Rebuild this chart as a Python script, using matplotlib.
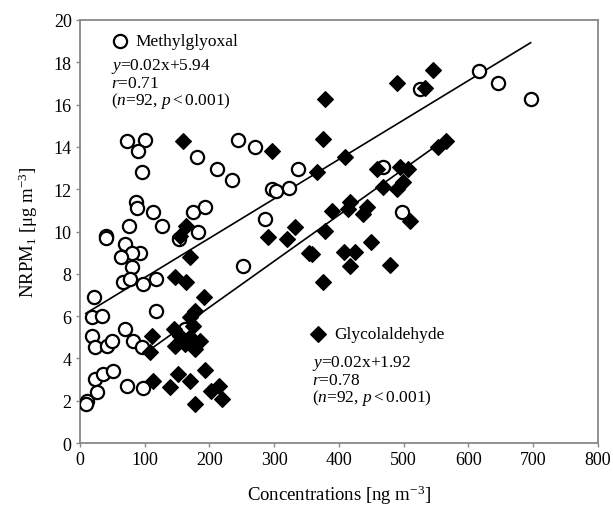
import matplotlib
matplotlib.use("Agg")
import matplotlib.pyplot as plt
import numpy as np

plt.rcParams['font.family'] = ['Liberation Serif', 'DejaVu Serif']
plt.rcParams['mathtext.fontset'] = 'custom'
plt.rcParams['mathtext.rm'] = 'Liberation Serif'
plt.rcParams['mathtext.it'] = 'Liberation Serif:italic'
plt.rcParams['mathtext.bf'] = 'Liberation Serif:bold'

# Methylglyoxal (open circles)
mg_x = [72, 100, 90, 96, 180, 212, 234, 244, 270,
        296, 303, 323, 337, 468, 286, 497, 525, 617, 646, 696,
        86, 88, 112, 126, 76, 175, 193, 183, 153,
        40, 40, 69, 93, 80, 64, 80, 252,
        67, 77, 98, 118,
        22, 18, 34, 118,
        18, 23, 41, 50, 69, 82, 95, 162,
        23, 36, 51, 26, 72, 97, 11, 9]
mg_y = [14.29, 14.34, 13.82, 12.83, 13.5, 12.95, 12.43, 14.34, 13.98,
        12.0, 11.9, 12.04, 12.95, 13.03, 10.59, 10.9, 16.74, 17.6, 17.02, 16.26,
        11.38, 11.1, 10.9, 10.24, 10.24, 10.94, 11.17, 9.96, 9.64,
        9.8, 9.68, 9.4, 9.0, 9.0, 8.78, 8.3, 8.35,
        7.6, 7.75, 7.52, 7.75,
        6.89, 5.94, 6.02, 6.26,
        5.07, 4.52, 4.6, 4.81, 5.39, 4.84, 4.52, 5.39,
        3.02, 3.26, 3.42, 2.43, 2.71, 2.6, 2.0, 1.84]

# Glycolaldehyde (filled diamonds)
ga_x = [158.6, 164, 154, 170,
        147, 164, 191.5, 178, 170, 175, 145, 111, 154, 147, 162, 178, 185, 170, 108,
        113, 139, 152, 170, 193, 203, 214, 219, 178,
        409, 365.5, 458, 494, 507, 499, 489, 468, 553, 566,
        417, 414, 443, 437.5, 389, 510, 332, 291, 319, 378, 358, 353, 407, 425, 450, 417, 479, 376,
        545, 490, 533, 378, 375, 296]
ga_y = [14.29, 10.27, 9.8, 8.78,
        7.83, 7.6, 6.89, 6.26, 5.94, 5.55, 5.39, 5.07, 5.07, 4.6, 4.68, 4.44, 4.84, 4.99, 4.29,
        2.95, 2.63, 3.26, 2.92, 3.45, 2.47, 2.7, 2.08, 1.84,
        13.5, 12.83, 12.95, 13.03, 12.95, 12.33, 12.01, 12.09, 13.98, 14.3,
        11.38, 11.06, 11.14, 10.83, 10.98, 10.51, 10.2, 9.72, 9.64, 10.04, 8.94, 9.0, 9.01, 9.01, 9.49, 8.35, 8.41, 7.6,
        17.65, 17.02, 16.77, 16.26, 14.37, 13.82]

# Regression lines as drawn
mg_fit = (0.01863, 5.96)
ga_fit = (0.0218, 2.06)

x_ticks = [0, 100, 200, 300, 400, 500, 600, 700, 800]
y_ticks = [0, 2, 4, 6, 8, 10, 12, 14, 16, 18, 20]

fig = plt.figure(figsize=(6.13, 5.06), dpi=100)
ax = fig.add_axes([0.1305, 0.1225, 0.845, 0.836])

ax.plot(mg_x, mg_y, linestyle='none', marker='o', ms=9.5, mfc='white',
        mec='black', mew=1.6, zorder=3)
ax.plot(ga_x, ga_y, linestyle='none', marker='D', ms=7.8, mfc='black',
        mec='black', mew=0.8, zorder=3)

mx = np.array([min(mg_x), max(mg_x)])
ax.plot(mx, mg_fit[0] * mx + mg_fit[1], color='black', lw=1.2, zorder=2)
gx = np.array([min(ga_x), max(ga_x)])
ax.plot(gx, ga_fit[0] * gx + ga_fit[1], color='black', lw=1.2, zorder=2)

ax.set_xlim(0, 800)
ax.set_ylim(0, 20)
ax.set_xticks(x_ticks)
ax.set_yticks(y_ticks)
ax.tick_params(direction='out', length=3, width=1, color='#888888',
               labelsize=13, pad=3)
for s in ax.spines.values():
    s.set_color('#888888')
    s.set_linewidth(1.3)

ax.set_xlabel('Concentrations [ng m$^{-3}$]', fontsize=13.5, labelpad=10)
ax.set_ylabel('NRPM$_1$ [μg m$^{-3}$]', fontsize=13.5, labelpad=10)

# Legend / annotation blocks
ax.plot([0.0772], [0.951], transform=ax.transAxes, marker='o', ms=9.5,
        mfc='white', mec='black', mew=1.6, clip_on=False)
ax.text(0.107, 0.951, 'Methylglyoxal', transform=ax.transAxes, fontsize=12.5,
        va='center', ha='left')
eq_kw = dict(transform=ax.transAxes, fontsize=12.5, va='center', ha='left')
ax.text(0.060, 0.892, r'$\mathit{y}$=0.02x+5.94', **eq_kw)
ax.text(0.060, 0.850, r'$\mathit{r}$=0.71', **eq_kw)
ax.text(0.060, 0.810, r'($\mathit{n}$=92, $\mathit{p}$$<$0.001)', **eq_kw)

ax.plot([0.460], [0.258], transform=ax.transAxes, marker='D', ms=7.8,
        mfc='black', mec='black', mew=0.8, clip_on=False)
ax.text(0.490, 0.258, 'Glycolaldehyde', transform=ax.transAxes, fontsize=12.5,
        va='center', ha='left')
ax.text(0.447, 0.191, r'$\mathit{y}$=0.02x+1.92', **eq_kw)
ax.text(0.447, 0.149, r'$\mathit{r}$=0.78', **eq_kw)
ax.text(0.447, 0.108, r'($\mathit{n}$=92, $\mathit{p}$$<$0.001)', **eq_kw)

fig.savefig('out.png', dpi=100)
